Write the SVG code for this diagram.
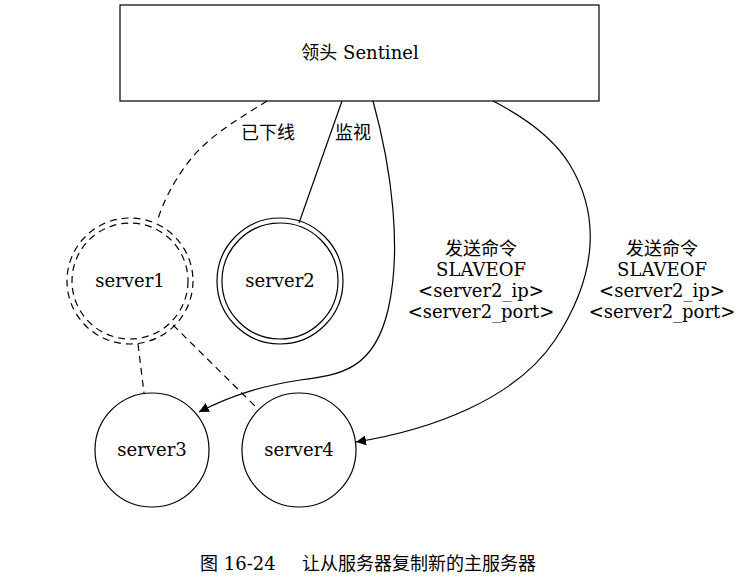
<svg xmlns="http://www.w3.org/2000/svg" width="744" height="587" viewBox="0 0 744 587">
<style>
text{font-family:"DejaVu Serif","Noto Sans CJK SC",serif;font-size:18px;fill:#000}
.c{text-anchor:middle}
.n{fill:none;stroke:#000;stroke-width:1.2}
.d{stroke-dasharray:7,5}
.e{fill:none;stroke:#000;stroke-width:1.2}
</style>
<defs>
<marker id="ah" viewBox="0 0 10 10" refX="10" refY="5" markerWidth="10" markerHeight="10" markerUnits="userSpaceOnUse" orient="auto">
<path d="M0,0 L10,5 L0,10 z" fill="#000"/>
</marker>
</defs>
<rect width="744" height="587" fill="#fff"/>
<g id="edges">
<path class="e d" d="M267,101 C240,118 210,135 190,160 C172,183 162,205 157,222"/>
<path class="e" d="M342,101 L299,223"/>
<path class="e" d="M373,101 C392,170 402,250 388,310 C374,370 340,375 300,380 C262,386 232,395 199,412" marker-end="url(#ah)"/>
<path class="e" d="M493,101 C530,120 555,140 570,165 C600,215 598,275 555,340 C515,400 430,430 356,442" marker-end="url(#ah)"/>
<path class="e d" d="M138,344 L144,393"/>
<path class="e d" d="M173,325 L258,409"/>
<text class="c" x="268" y="139">已下线</text>
<text class="c" x="353" y="139">监视</text>
<text class="c" x="481" y="255">发送命令</text>
<text class="c" x="481" y="276">SLAVEOF</text>
<text class="c" x="481" y="297">&lt;server2_ip&gt;</text>
<text class="c" x="481" y="318">&lt;server2_port&gt;</text>
<text class="c" x="662" y="255">发送命令</text>
<text class="c" x="662" y="276">SLAVEOF</text>
<text class="c" x="662" y="297">&lt;server2_ip&gt;</text>
<text class="c" x="662" y="318">&lt;server2_port&gt;</text>
</g>
<g id="sentinel">
<rect class="n" x="120" y="5" width="479" height="96"/>
<text class="c" x="360" y="59">领头 Sentinel</text>
</g>
<g id="server1">
<circle class="n d" cx="130" cy="281" r="63"/>
<circle class="n d" cx="130" cy="281" r="58"/>
<text class="c" x="130" y="287">server1</text>
</g>
<g id="server2">
<circle class="n" cx="280" cy="281" r="63"/>
<circle class="n" cx="280" cy="281" r="58"/>
<text class="c" x="280" y="287">server2</text>
</g>
<g id="server3">
<circle class="n" cx="152" cy="450" r="57"/>
<text class="c" x="152" y="456">server3</text>
</g>
<g id="server4">
<circle class="n" cx="299" cy="450" r="57"/>
<text class="c" x="299" y="456">server4</text>
</g>
<g id="caption">
<text x="200" y="570">图 16-24<tspan x="302">让从服务器复制新的主服务器</tspan></text>
</g>
</svg>
